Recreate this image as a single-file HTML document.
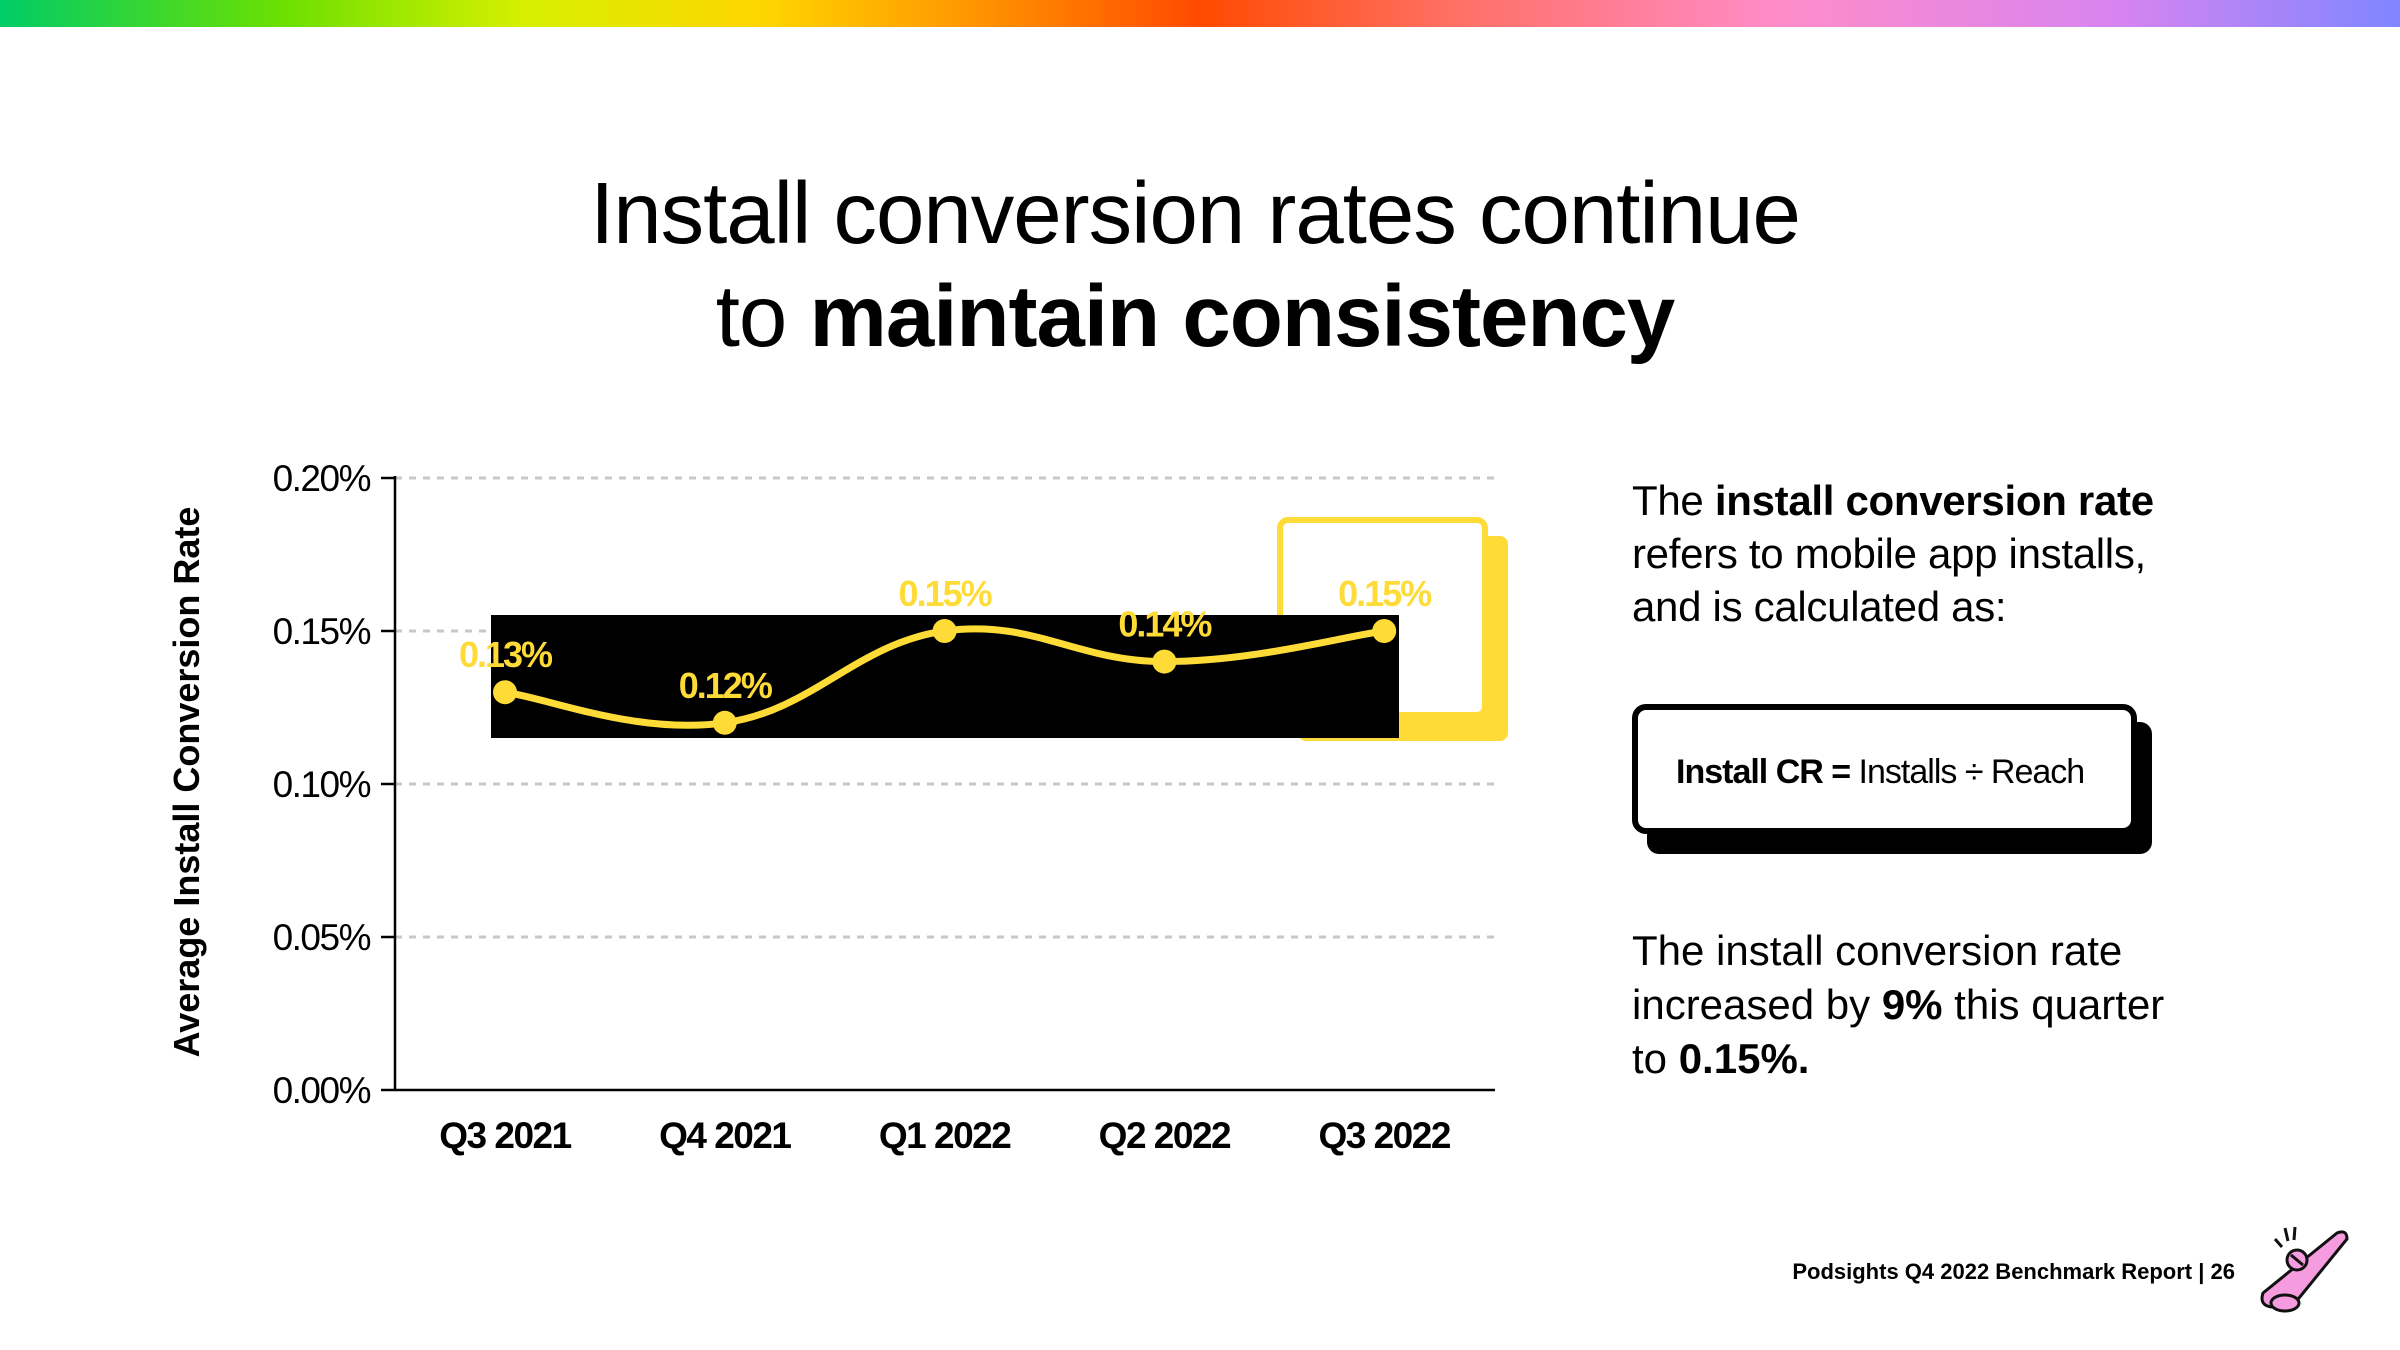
<!DOCTYPE html>
<html><head><meta charset="utf-8"><style>
html,body{margin:0;padding:0;background:#fff}
body{width:2400px;height:1350px;position:relative;overflow:hidden;font-family:"Liberation Sans",sans-serif;color:#000}
.abs{position:absolute}
</style></head><body>
<div class="abs" style="left:0;top:0;width:2400px;height:27px;background:linear-gradient(90deg,#00cc66 0%,#6ee000 12%,#d8f000 22%,#ffd400 32%,#ff8a00 42%,#ff4a00 50%,#ff6e60 60%,#ff8cc8 74%,#d884f0 88%,#7f86ff 100%)"></div>
<div class="abs" style="left:0;top:162px;width:2390px;text-align:center;font-size:87px;line-height:103px;letter-spacing:-1px">Install conversion rates continue<br>to <b>maintain consistency</b></div>

<svg class="abs" style="left:0;top:0" width="1560" height="1200" id="chart"></svg>

<div class="abs" style="left:1632px;top:474px;font-size:42px;line-height:53px;letter-spacing:-0.3px">The <b>install conversion rate</b><br>refers to mobile app installs,<br>and is calculated as:</div>
<div class="abs" style="left:1647px;top:722px;width:505px;height:132px;background:#000;border-radius:12px"></div>
<div class="abs" style="left:1632px;top:704px;width:505px;height:130px;box-sizing:border-box;border:6px solid #000;background:#fff;border-radius:14px;font-size:34px;line-height:124px;padding-left:38px;letter-spacing:-1px;white-space:nowrap"><b>Install CR =</b> Installs ÷ Reach</div>
<div class="abs" style="left:1632px;top:924px;font-size:42px;line-height:54px;letter-spacing:0px">The install conversion rate<br>increased by <b>9%</b> this quarter<br>to <b>0.15%.</b></div>
<div class="abs" style="left:1700px;top:1259px;width:535px;text-align:right;font-size:22px;font-weight:bold">Podsights Q4 2022 Benchmark Report | 26</div>
<svg class="abs" style="left:2255px;top:1225px" width="100" height="90" viewBox="0 0 100 90">
<line x1="30" y1="3" x2="33" y2="16" stroke="#111" stroke-width="3"/><line x1="40" y1="2" x2="39" y2="15" stroke="#111" stroke-width="3"/><line x1="20" y1="14" x2="27" y2="22" stroke="#111" stroke-width="3"/>
<path d="M8 68 L82 8 Q92 4 92 14 L40 78 L16 82 Q4 80 8 68Z" fill="#f59be0" stroke="#111" stroke-width="3"/>
<ellipse cx="30" cy="78" rx="14" ry="8" fill="#f59be0" stroke="#111" stroke-width="3"/>
<circle cx="42" cy="35" r="10" fill="#f59be0" stroke="#111" stroke-width="3"/><line x1="36" y1="30" x2="48" y2="40" stroke="#111" stroke-width="3"/>
</svg>

<script>
const categories=["Q3 2021","Q4 2021","Q1 2022","Q2 2022","Q3 2022"];
const values=[0.13,0.12,0.15,0.14,0.15];
const valueLabels=["0.13%","0.12%","0.15%","0.14%","0.15%"];
const yTicks=[0,0.05,0.10,0.15,0.20];
const yTickLabels=["0.00%","0.05%","0.10%","0.15%","0.20%"];
const NS="http://www.w3.org/2000/svg";
const svg=document.getElementById('chart');
const X0=395,X1=1495,Y0=1090,Y1=478,xStart=505,xStep=219.8;
const xS=i=>xStart+i*xStep;
const yS=v=>Y0-(v-0)/(0.20)*(Y0-Y1);
function mk(t,a){const e=document.createElementNS(NS,t);for(const k in a)e.setAttribute(k,a[k]);svg.appendChild(e);return e;}
yTicks.forEach((t,i)=>{
 if(t>0){const g=mk('line',{x1:X0,x2:X1,y1:yS(t),y2:yS(t),stroke:'#c8c8c8','stroke-width':3,'stroke-dasharray':'7 7'});
 
 }
 const tk=mk('line',{x1:X0-14,x2:X0,y1:yS(t),y2:yS(t),stroke:'#000','stroke-width':2.5});
 
 
 const lb=mk('text',{x:370,y:yS(t)+13,'text-anchor':'end','font-size':37,'letter-spacing':-1.5,'font-family':'Liberation Sans, sans-serif'});
 lb.textContent=yTickLabels[i];
 
 
});
const sh=mk('rect',{x:1298,y:536,width:210,height:205,rx:8,fill:'#ffdb38'});


const fr=mk('rect',{x:1280,y:520,width:205,height:195,rx:8,fill:'#fff',stroke:'#ffdb38','stroke-width':6});


const bk=mk('rect',{x:491,y:615,width:908,height:123,fill:'#000'});


const ya=mk('line',{x1:X0,x2:X0,y1:Y1-2,y2:Y0,stroke:'#000','stroke-width':2.5});


const xa=mk('line',{x1:X0,x2:X1,y1:Y0,y2:Y0,stroke:'#000','stroke-width':2.5});


const pts=values.map((v,i)=>[xS(i),yS(v)]);
let d=`M${pts[0][0]},${pts[0][1]}`;
for(let i=0;i<pts.length-1;i++){
 const p0=pts[Math.max(0,i-1)],p1=pts[i],p2=pts[i+1],p3=pts[Math.min(pts.length-1,i+2)];
 const t=0.2;
 const c1=[p1[0]+(p2[0]-p0[0])*t,p1[1]+(p2[1]-p0[1])*t];
 const c2=[p2[0]-(p3[0]-p1[0])*t,p2[1]-(p3[1]-p1[1])*t];
 d+=` C${c1[0]},${c1[1]} ${c2[0]},${c2[1]} ${p2[0]},${p2[1]}`;
}
const ln=mk('path',{d:d,fill:'none',stroke:'#ffdb38','stroke-width':7});


pts.forEach((p,i)=>{
 const c=mk('circle',{cx:p[0],cy:p[1],r:12,fill:'#ffdb38'});
 
 
 const l=mk('text',{x:p[0],y:p[1]-25,'text-anchor':'middle','font-size':36,'font-weight':'bold','letter-spacing':-2,fill:'#ffdb38','font-family':'Liberation Sans, sans-serif'});
 l.textContent=valueLabels[i];
 
 
 const xl=mk('text',{x:p[0],y:1148,'text-anchor':'middle','font-size':37,'font-weight':'bold','letter-spacing':-1.5,'font-family':'Liberation Sans, sans-serif'});
 xl.textContent=categories[i];
 
 
});
const yt=mk('text',{x:0,y:0,transform:'translate(199,782) rotate(-90)','text-anchor':'middle','font-size':36,'font-weight':'bold','font-family':'Liberation Sans, sans-serif'});
yt.textContent='Average Install Conversion Rate';


</script>
</body></html>
